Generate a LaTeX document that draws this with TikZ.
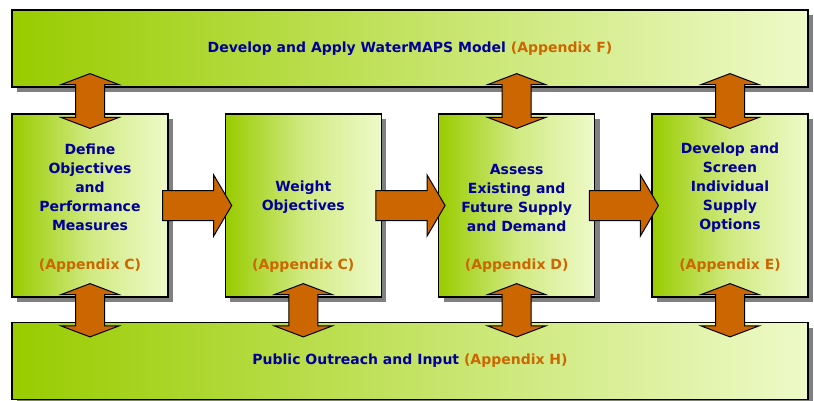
\documentclass[tikz,border=0pt]{standalone}
\usepackage{fontspec}
\setmainfont{DejaVu Sans}
\usetikzlibrary{calc,shadows}
\definecolor{navy}{RGB}{0,0,153}
\definecolor{rust}{RGB}{204,102,0}
\definecolor{leafgreen}{RGB}{153,204,0}
\definecolor{palegreen}{RGB}{238,250,200}
\newcommand{\twoway}[3]{%
	\draw[bigarrow] let \p1=(#3.center), \p2=(#1.south), \p3=(#2.north) in
		(\x1,\y2+14pt) -- (\x1+29pt,\y2+3pt) -- (\x1+14.5pt,\y2+3pt) -- (\x1+14.5pt,\y3-4pt)
		-- (\x1+29pt,\y3-4pt) -- (\x1,\y3-15pt) -- (\x1-29pt,\y3-4pt) -- (\x1-14.5pt,\y3-4pt)
		-- (\x1-14.5pt,\y2+3pt) -- (\x1-29pt,\y2+3pt) -- cycle;}
\newcommand{\oneway}[2]{%
	\draw[bigarrow] let \p1=(#1.east), \p2=(#2.west) in
		(\x1-6pt,\y1+15pt) -- (\x2-11pt,\y1+15pt) -- (\x2-11pt,\y1+30.5pt) -- (\x2+7pt,\y1)
		-- (\x2-11pt,\y1-30.5pt) -- (\x2-11pt,\y1-15pt) -- (\x1-6pt,\y1-15pt) -- cycle;}
\begin{document}
\begin{tikzpicture}
	[x=1pt,y=-1pt,
	every node/.style={font=\fontsize{14}{19}\selectfont\bfseries,text=navy,align=center,inner sep=0pt},
	panel/.style={draw=black,line width=1.2pt,left color=leafgreen,right color=palegreen,
		drop shadow={shadow xshift=5pt,shadow yshift=-5pt,fill=black!50,opacity=1}},
	bar/.style={panel,minimum width=796pt,minimum height=77pt},
	stage/.style={panel,middle color=leafgreen!35!palegreen,minimum width=156pt,minimum height=183pt},
	apx/.style={text=rust},
	bigarrow/.style={draw=black,line width=1pt,fill=rust,line join=miter}
	]
	\useasboundingbox (0,0) rectangle (814,400);
	\node[bar] (model) at (410,48.5) {Develop and Apply WaterMAPS Model \textcolor{rust}{(Appendix F)}};
	\node[bar] (public) at (410,361) {Public Outreach and Input \textcolor{rust}{(Appendix H)}};
	\node[stage] (b1) at (90,205.5) {};
	\node[stage] (b2) at (303.3,205.5) {};
	\node[stage] (b3) at (516.7,205.5) {};
	\node[stage] (b4) at (730,205.5) {};
	\node (t1) at ([yshift=18.5pt]b1.center) {Define\\Objectives\\and\\Performance\\Measures};
	\node (t2) at ([yshift=8pt]b2.center) {Weight\\Objectives};
	\node (t3) at ([yshift=8pt]b3.center) {Assess\\Existing and\\Future Supply\\and Demand};
	\node (t4) at ([yshift=18pt]b4.center) {Develop and\\Screen\\Individual\\Supply\\Options};
	\node[apx] (a1) at ([yshift=32pt]b1.south) {(Appendix C)};
	\node[apx] (a2) at ([yshift=32pt]b2.south) {(Appendix C)};
	\node[apx] (a3) at ([yshift=32pt]b3.south) {(Appendix D)};
	\node[apx] (a4) at ([yshift=32pt]b4.south) {(Appendix E)};
	\oneway{b1}{b2}
	\oneway{b2}{b3}
	\oneway{b3}{b4}
	\twoway{model}{b1}{b1}
	\twoway{model}{b3}{b3}
	\twoway{model}{b4}{b4}
	\twoway{b1}{public}{b1}
	\twoway{b2}{public}{b2}
	\twoway{b3}{public}{b3}
	\twoway{b4}{public}{b4}
\end{tikzpicture}
\end{document}
